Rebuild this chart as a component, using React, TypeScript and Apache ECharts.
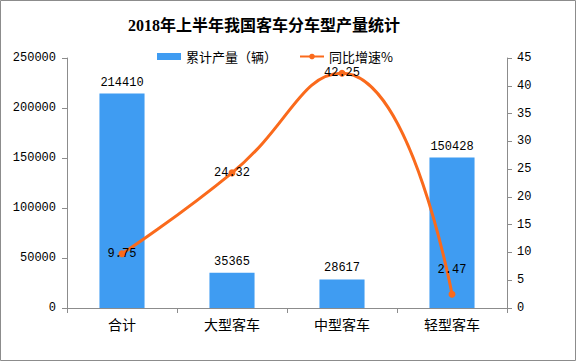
import React, { useEffect, useRef } from "react";
import * as echarts from "echarts";

const categories = ["合计", "大型客车", "中型客车", "轻型客车"];
const production = [214410, 35365, 28617, 150428];
const growth = [9.75, 24.32, 42.25, 2.47];
const growthLabelPos = ["inside", "inside", "inside", "top"];
const leftTicks = { min: 0, max: 250000, interval: 50000 };
const rightTicks = { min: 0, max: 45, interval: 5 };

const TITLE = "2018年上半年我国客车分车型产量统计";
const BAR_NAME = "累计产量（辆）";
const LINE_NAME = "同比增速%";

const NUM_FONT = "'Liberation Mono', 'Noto Sans CJK SC', monospace";
const CJK_FONT = "'Noto Sans CJK SC', sans-serif";
const AXIS_COLOR = "#8c8c8c";
const BAR_COLOR = "#3f9cf2";
const LINE_COLOR = "#fa6a1c";

export default function App() {
  const ref = useRef<HTMLDivElement>(null);
  useEffect(() => {
    if (!ref.current) return;
    const chart = echarts.init(ref.current, undefined, { renderer: "svg" });
    chart.setOption({
      animation: false,
      backgroundColor: "#ffffff",
      title: {
        text: TITLE,
        left: 123,
        top: 12,
        textStyle: {
          fontFamily: "'Liberation Serif', 'Noto Sans CJK SC', serif",
          fontSize: 16,
          fontWeight: "bold",
          color: "#000",
        },
      },
      legend: {
        left: 152,
        top: 45,
        itemWidth: 24,
        itemHeight: 7,
        itemGap: 22,
        textStyle: { fontFamily: CJK_FONT, fontSize: 13, color: "#000" },
        data: [
          { name: BAR_NAME, icon: "rect" },
          { name: LINE_NAME },
        ],
      },
      grid: { left: 67, right: 69, top: 58, bottom: 53 },
      xAxis: {
        type: "category",
        data: categories,
        axisLine: { lineStyle: { color: AXIS_COLOR, width: 1 } },
        axisTick: { show: true, length: 5, alignWithLabel: false, lineStyle: { color: AXIS_COLOR } },
        axisLabel: { color: "#000", fontFamily: CJK_FONT, fontSize: 14, margin: 9 },
      },
      yAxis: [
        {
          type: "value",
          ...leftTicks,
          axisLine: { show: true, lineStyle: { color: AXIS_COLOR } },
          axisTick: { show: true, length: 5, lineStyle: { color: AXIS_COLOR } },
          splitLine: { show: false },
          axisLabel: {
            color: "#000",
            fontFamily: NUM_FONT,
            fontSize: 12,
            margin: 11,
            formatter: (v: number) => String(v),
          },
        },
        {
          type: "value",
          position: "right",
          ...rightTicks,
          axisLine: { show: true, lineStyle: { color: AXIS_COLOR } },
          axisTick: { show: true, length: 5, lineStyle: { color: AXIS_COLOR } },
          splitLine: { show: false },
          axisLabel: { color: "#000", fontFamily: NUM_FONT, fontSize: 12, margin: 10 },
        },
      ],
      series: [
        {
          name: BAR_NAME,
          type: "bar",
          data: production,
          barWidth: "41%",
          itemStyle: { color: BAR_COLOR },
          label: {
            show: true,
            position: "top",
            distance: 5,
            color: "#000",
            fontFamily: NUM_FONT,
            fontSize: 12,
          },
        },
        {
          name: LINE_NAME,
          type: "line",
          yAxisIndex: 1,
          smooth: 0.5,
          data: growth.map((v, i) => ({
            value: v,
            label: {
              position: growthLabelPos[i],
              distance: growthLabelPos[i] === "top" ? 15 : 5,
            },
          })),
          symbol: "circle",
          symbolSize: 7,
          lineStyle: { color: LINE_COLOR, width: 3 },
          itemStyle: { color: LINE_COLOR },
          label: {
            show: true,
            color: "#000",
            fontFamily: NUM_FONT,
            fontSize: 12,
          },
          z: 3,
        },
      ],
      graphic: [
        {
          type: "rect",
          silent: true,
          shape: { x: 0.5, y: 0.5, width: 575, height: 360 },
          style: { fill: "none", stroke: "#8c8c8c", lineWidth: 1 },
          z: 100,
        },
      ],
    });
    return () => chart.dispose();
  }, []);
  return (
    <div
      ref={ref}
      style={{ position: "absolute", left: 0, top: 0, width: 576, height: 361 }}
    />
  );
}
